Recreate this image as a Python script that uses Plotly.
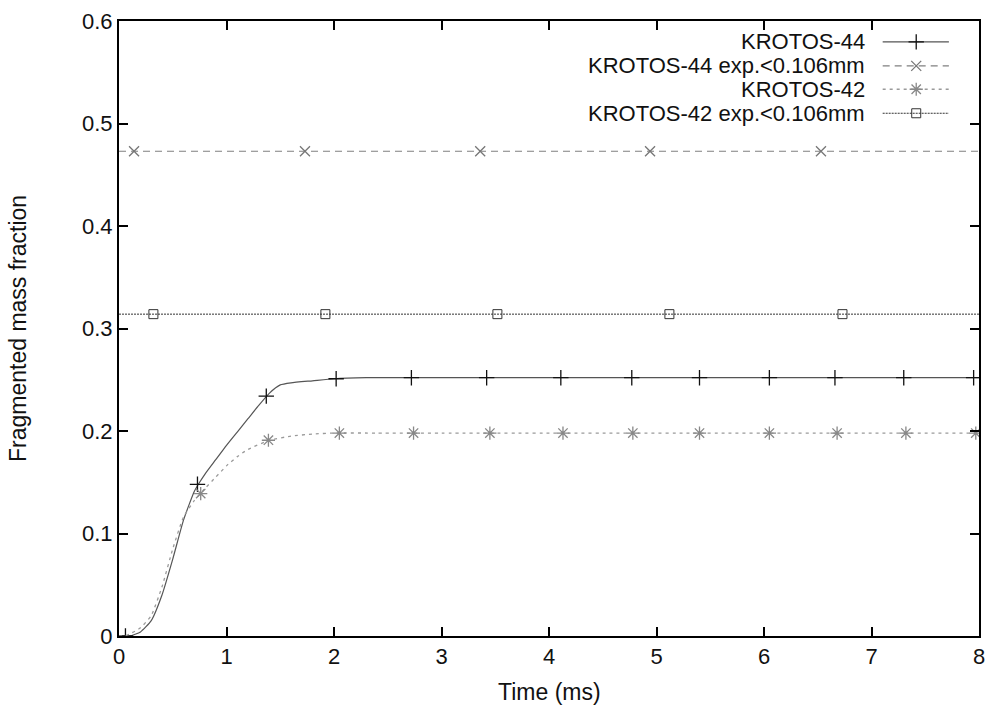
import plotly.graph_objects as go

# ---------------- data ----------------
# KROTOS-44 simulation curve
t44 = [0, 0.1, 0.2, 0.3, 0.4, 0.5, 0.6, 0.7, 0.75, 0.8, 0.9, 1.0, 1.1, 1.2, 1.3, 1.4, 1.5, 1.6, 1.8, 2.0, 2.3, 2.6, 3.0, 8.0]
y44 = [0, 0.0, 0.004, 0.015, 0.040, 0.075, 0.113, 0.141, 0.150, 0.158, 0.172, 0.186, 0.199, 0.212, 0.225, 0.237, 0.245, 0.247, 0.249, 0.251, 0.252, 0.252, 0.252, 0.252]
t44_pts = [0.06, 0.73, 1.37, 2.02, 2.72, 3.42, 4.11, 4.77, 5.40, 6.05, 6.66, 7.30, 7.95]
y44_pts = [0.0, 0.148, 0.234, 0.251, 0.252, 0.252, 0.252, 0.252, 0.252, 0.252, 0.252, 0.252, 0.252]

# KROTOS-42 simulation curve
t42 = [0, 0.05, 0.1, 0.2, 0.3, 0.4, 0.5, 0.6, 0.7, 0.8, 0.9, 1.0, 1.1, 1.2, 1.4, 1.6, 1.8, 2.0, 2.4, 3.0, 8.0]
y42 = [0, 0.0, 0.002, 0.008, 0.020, 0.048, 0.085, 0.116, 0.132, 0.144, 0.155, 0.166, 0.175, 0.182, 0.191, 0.195, 0.197, 0.198, 0.198, 0.198, 0.198]
t42_pts = [0.76, 1.39, 2.05, 2.74, 3.45, 4.13, 4.78, 5.40, 6.05, 6.68, 7.32, 7.97]
y42_pts = [0.139, 0.191, 0.198, 0.198, 0.198, 0.198, 0.198, 0.198, 0.198, 0.198, 0.198, 0.198]

# experimental values (<0.106 mm)
exp44_value = 0.473
exp42_value = 0.314
exp44_pts_t = [0.14, 1.73, 3.36, 4.94, 6.53]
exp42_pts_t = [0.32, 1.92, 3.52, 5.12, 6.73]
exp_t_range = [0, 8]

x_ticks = [0, 1, 2, 3, 4, 5, 6, 7, 8]
y_ticks = [0, 0.1, 0.2, 0.3, 0.4, 0.5, 0.6]
y_tick_labels = ["0", "0.1", "0.2", "0.3", "0.4", "0.5", "0.6"]

legend_labels = ["KROTOS-44", "KROTOS-44 exp.<0.106mm", "KROTOS-42", "KROTOS-42 exp.<0.106mm"]
x_title = "Time (ms)"
y_title = "Fragmented mass fraction"

# ---------------- styles ----------------
FONT = "Liberation Sans, Arial, Helvetica, sans-serif"
TXT = "#111111"
styles = [
    dict(line=dict(color="#555555", width=1.2, dash="solid"),
         marker=dict(symbol="cross-thin", size=11, color="#111111", line=dict(color="#111111", width=1.3))),
    dict(line=dict(color="#808080", width=1.1, dash="7px,5px"),
         marker=dict(symbol="x-thin", size=10, color="#777777", line=dict(color="#777777", width=1.3))),
    dict(line=dict(color="#9a9a9a", width=1.3, dash="3px,4px"),
         marker=dict(symbol="asterisk", size=11, color="#888888", line=dict(color="#888888", width=1.3))),
    dict(line=dict(color="#333333", width=1.0, dash="2px,1px"),
         marker=dict(symbol="square-open", size=9, color="#333333", line=dict(color="#333333", width=1.0))),
]
curve_shapes = ["spline", "linear", "spline", "linear"]

fig = go.Figure()

line_sets = [
    (t44, y44),
    (exp_t_range, [exp44_value] * 2),
    (t42, y42),
    (exp_t_range, [exp42_value] * 2),
]
marker_sets = [
    (t44_pts, y44_pts),
    (exp44_pts_t, [exp44_value] * len(exp44_pts_t)),
    (t42_pts, y42_pts),
    (exp42_pts_t, [exp42_value] * len(exp42_pts_t)),
]
for (lx, ly), (mx, my), st, shp, name in zip(line_sets, marker_sets, styles, curve_shapes, legend_labels):
    line_style = dict(st["line"], shape=shp)
    if shp == "spline":
        line_style["smoothing"] = 0.5
    fig.add_trace(go.Scatter(x=lx, y=ly, mode="lines", line=line_style, name=name,
                             showlegend=False, hoverinfo="skip"))
    fig.add_trace(go.Scatter(x=mx, y=my, mode="markers", marker=st["marker"], name=name,
                             showlegend=False))

# gnuplot-style key (text left, sample right) on an overlay axis in plot fractions
key_rows = [0.966, 0.927, 0.889, 0.850]
key_line_x = [0.888, 0.965]
key_mark_x = 0.927
key_text_x = 0.870
for row, st, name in zip(key_rows, styles, legend_labels):
    fig.add_trace(go.Scatter(x=key_line_x, y=[row, row], mode="lines", line=st["line"],
                             xaxis="x2", yaxis="y2", showlegend=False, hoverinfo="skip"))
    fig.add_trace(go.Scatter(x=[key_mark_x], y=[row], mode="markers", marker=st["marker"],
                             xaxis="x2", yaxis="y2", showlegend=False, hoverinfo="skip"))
    fig.add_annotation(x=key_text_x, y=row, xref="paper", yref="paper", text=name,
                       showarrow=False, xanchor="right", yanchor="middle",
                       font=dict(family=FONT, size=22, color=TXT))

# axis titles
fig.add_annotation(x=0.5, y=-0.091, xref="paper", yref="paper", text=x_title, showarrow=False,
                   xanchor="center", yanchor="middle", font=dict(family=FONT, size=23, color=TXT))
fig.add_annotation(x=-0.118, y=0.5, xref="paper", yref="paper", text=y_title, showarrow=False,
                   textangle=-90, xanchor="center", yanchor="middle",
                   font=dict(family=FONT, size=23, color=TXT))

axis_common = dict(showline=True, linecolor="black", linewidth=2, mirror="ticks",
                   ticks="inside", ticklen=9, tickwidth=1.5, tickcolor="black",
                   showgrid=False, zeroline=False, automargin=False,
                   tickfont=dict(family=FONT, size=22, color=TXT))

fig.update_layout(
    width=992, height=711,
    margin=dict(l=119, r=13, t=21, b=75),
    paper_bgcolor="white", plot_bgcolor="white",
    showlegend=False,
    xaxis=dict(range=[0, 8], tickvals=x_ticks, ticktext=[str(v) for v in x_ticks], **axis_common),
    yaxis=dict(range=[0, 0.6], tickvals=y_ticks, ticktext=y_tick_labels, **axis_common),
    xaxis2=dict(range=[0, 1], overlaying="x", visible=False, fixedrange=True),
    yaxis2=dict(range=[0, 1], overlaying="y", visible=False, fixedrange=True),
)

fig.write_html("out.html", config={"displayModeBar": False},
               post_script="document.body.style.margin='0px';")
